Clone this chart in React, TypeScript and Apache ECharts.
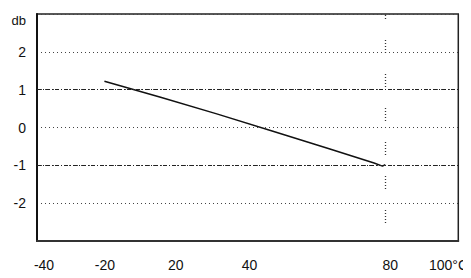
import React, { useEffect, useRef } from "react";
import * as echarts from "echarts";

const xData = [-20, 0, 20, 40, 60, 76, 79, 80];
const yData = [1.22, 0.8, 0.36, -0.1, -0.56, -0.94, -1.02, -0.98];
// tick labels as drawn on the original (label anchors as they appear)
const xTickAt = [-41.5, -19.8, 5.4, 31.7, 81.8, 102.5];
const xTickLabels = ["-40", "-20", "20", "40", "80", "100°C"];
const yTicks = [-3, -2, -1, 0, 1, 2, 3];
const yTickLabels = ["", "-2", "-1", "0", "1", "2", "db"];
const dashDotLevels = [1, -1];
const markerX = 80;

export default function App() {
  const ref = useRef<HTMLDivElement>(null);
  useEffect(() => {
    if (!ref.current) return;
    const chart = echarts.init(ref.current, undefined, { renderer: "svg" });
    const font = "Liberation Sans, Arial, sans-serif";
    chart.setOption({
      animation: false,
      grid: {
        left: 37,
        top: 14,
        right: 12,
        bottom: 37,
        show: true,
        borderColor: "#222",
        borderWidth: 1.5,
        backgroundColor: "#fff",
      },
      xAxis: {
        type: "value",
        min: -44,
        max: 106,
        axisLine: { show: true, onZero: false, lineStyle: { color: "#333", width: 2 } },
        axisTick: { show: false },
        splitLine: { show: false },
        axisLabel: {
          customValues: xTickAt,
          margin: 17,
          color: "#111",
          fontFamily: font,
          fontSize: 14,
          formatter: (v: number) => {
            const i = xTickAt.indexOf(v);
            return i >= 0 ? xTickLabels[i] : "";
          },
        },
      },
      yAxis: {
        type: "value",
        min: -3,
        max: 3,
        interval: 1,
        axisLine: { show: true, onZero: false, lineStyle: { color: "#111", width: 2 } },
        axisTick: { show: false },
        splitLine: {
          show: true,
          lineStyle: { color: "#444", width: 1, type: [1, 3] },
        },
        axisLabel: {
          margin: 11,
          color: "#111",
          fontFamily: font,
          fontSize: 14,
          formatter: (v: number) => {
            const i = yTicks.indexOf(v);
            const t = i >= 0 ? yTickLabels[i] : "";
            return v === 3 ? "{db|" + t + "}" : t;
          },
          rich: {
            db: { fontSize: 13, fontFamily: font, color: "#111", padding: [12, 0, 0, 0] },
          },
        },
      },
      series: [
        {
          type: "line",
          data: xData.map((x, i) => [x, yData[i]]),
          showSymbol: false,
          lineStyle: { color: "#111", width: 1.5 },
          markLine: {
            silent: true,
            symbol: "none",
            label: { show: false },
            data: [
              ...dashDotLevels.map((y) => ({
                yAxis: y,
                lineStyle: { color: "#222", width: 1.2, type: [4, 2, 1, 2] },
              })),
              {
                xAxis: markerX,
                lineStyle: {
                  color: "#333",
                  width: 1.3,
                  type: [1, 2, 1, 2, 1, 2, 1, 2, 1, 21],
                  dashOffset: 16,
                },
              },
            ],
          },
        },
      ],
    });
    return () => chart.dispose();
  }, []);
  return <div ref={ref} style={{ width: 471, height: 278, margin: -8 }} />;
}
